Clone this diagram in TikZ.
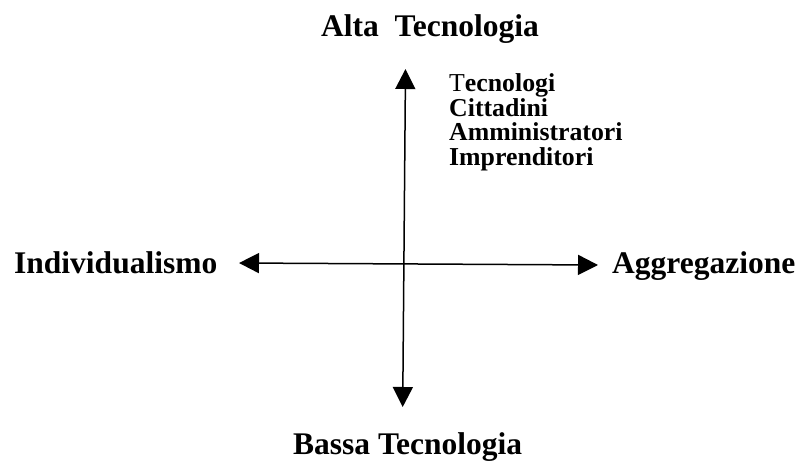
\documentclass[tikz,border=0pt]{standalone}
\usepackage{fontspec}
\setmainfont{Liberation Serif}
\usetikzlibrary{arrows.meta}

\begin{document}
\begin{tikzpicture}[
    x=1pt, y=-1pt,
    every node/.style={inner sep=0pt, anchor=base west},
    axislabel/.style={font=\fontsize{31.5}{36}\selectfont\bfseries},
    actor/.style={font=\fontsize{25.8}{25}\selectfont\bfseries},
    axisline/.style={{Triangle[length=20pt,width=20pt]}-{Triangle[length=20pt,width=20pt]},
                     line width=1.5pt},
]
\useasboundingbox (0,0) rectangle (799,460);

%% Axis ends
\coordinate (top)    at (405.5,69);
\coordinate (bottom) at (402.7,407);
\coordinate (left)   at (239,263);
\coordinate (right)  at (598,265);

%% Axis labels
\node[axislabel] (alta)  at (321,37)  {Alta\ \ Tecnologia};
\node[axislabel] (bassa) at (293,454) {Bassa Tecnologia};
\node[axislabel] (indiv) at (14,273)  {Individualismo};
\node[axislabel] (aggr)  at (612,273) {Aggregazione};

%% Actors
\node[actor] (tecn)  at (449,91.7)  {{\mdseries T}ecnologi};
\node[actor] (citt)  at (449,116.3) {Cittadini};
\node[actor] (ammin) at (449,140.7) {Amministratori};
\node[actor] (impr)  at (449,165)   {Imprenditori};

%% Axes
\draw[axisline] (bottom) -- (top);
\draw[axisline] (left) -- (right);

\end{tikzpicture}
\end{document}
